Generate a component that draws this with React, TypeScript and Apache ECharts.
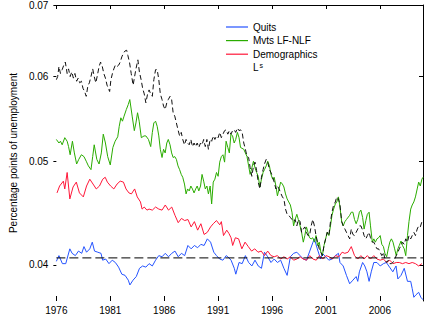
import React, { useEffect, useRef } from "react";
import * as echarts from "echarts";

const xRange = [1976, 2010];
const yRange = [0.037, 0.07];
const xTicks = [1976, 1981, 1986, 1991, 1996, 2001, 2006];
const yTicks = [0.04, 0.05, 0.06, 0.07];
const seriesNames = ["Quits", "Mvts LF-NLF", "Demographics", "Ls"];
const benchmarkLevel = 0.0406;

const quits: [number, number][] = [
  [1976.0, 0.0403], [1976.24, 0.0408], [1976.56, 0.0401], [1976.87, 0.0401], [1977.25, 0.0414], [1977.46, 0.041],
  [1977.76, 0.0408], [1978.05, 0.0412], [1978.35, 0.041], [1978.56, 0.0416], [1978.8, 0.0411], [1979.1, 0.0414],
  [1979.33, 0.042], [1979.54, 0.0412], [1979.84, 0.0411], [1980.14, 0.041], [1980.29, 0.0404], [1980.58, 0.0405],
  [1980.88, 0.0401], [1981.18, 0.0404], [1981.47, 0.0402], [1981.77, 0.0398], [1982.07, 0.0392], [1982.37, 0.0391],
  [1982.67, 0.0387], [1982.82, 0.0383], [1983.11, 0.0387], [1983.41, 0.039], [1983.71, 0.0397], [1984.0, 0.0399],
  [1984.3, 0.0398], [1984.6, 0.0401], [1984.9, 0.0399], [1985.2, 0.0404], [1985.5, 0.0408], [1985.8, 0.0407],
  [1986.1, 0.041], [1986.4, 0.0407], [1986.7, 0.041], [1987.0, 0.0412], [1987.3, 0.0407], [1987.6, 0.041],
  [1987.9, 0.0408], [1988.2, 0.0417], [1988.5, 0.0414], [1988.8, 0.0417], [1989.1, 0.0415], [1989.4, 0.0418],
  [1989.7, 0.0417], [1990.0, 0.0423], [1990.3, 0.042], [1990.6, 0.0411], [1990.85, 0.0408], [1991.15, 0.0405],
  [1991.45, 0.0404], [1991.75, 0.0408], [1991.9, 0.0407], [1992.2, 0.0404], [1992.5, 0.0397], [1992.64, 0.0392],
  [1992.94, 0.0402], [1993.23, 0.0401], [1993.53, 0.0408], [1993.83, 0.0402], [1994.13, 0.0399], [1994.42, 0.0404],
  [1994.72, 0.0399], [1995.02, 0.0397], [1995.3, 0.0411], [1995.6, 0.0407], [1995.9, 0.0402], [1996.2, 0.0405],
  [1996.5, 0.0402], [1996.8, 0.0404], [1997.1, 0.0397], [1997.4, 0.0391], [1997.7, 0.0407], [1998.0, 0.041],
  [1998.3, 0.0411], [1998.6, 0.0408], [1998.9, 0.0405], [1999.2, 0.0404], [1999.5, 0.0412], [1999.8, 0.042],
  [1999.93, 0.0423], [2000.2, 0.0414], [2000.5, 0.0405], [2000.67, 0.041], [2000.97, 0.0407], [2001.27, 0.0404],
  [2001.56, 0.0405], [2001.86, 0.0408], [2002.16, 0.041], [2002.3, 0.0402], [2002.6, 0.0399], [2002.9, 0.0391],
  [2003.2, 0.0384], [2003.5, 0.0387], [2003.8, 0.039], [2003.95, 0.0386], [2004.1, 0.0394], [2004.4, 0.0402],
  [2004.6, 0.0399], [2004.8, 0.0394], [2005.0, 0.0386], [2005.2, 0.0394], [2005.44, 0.0402], [2005.73, 0.0402],
  [2006.03, 0.0399], [2006.33, 0.0401], [2006.6, 0.0402], [2006.9, 0.0398], [2007.2, 0.0394], [2007.5, 0.0399],
  [2007.67, 0.0388], [2007.96, 0.0391], [2008.26, 0.0397], [2008.56, 0.0386], [2008.86, 0.0386], [2009.0, 0.038],
  [2009.15, 0.0373], [2009.35, 0.0375], [2009.6, 0.0377], [2009.8, 0.0373], [2010.0, 0.0371],
];

const mvtsLfNlf: [number, number][] = [
  [1976.0, 0.0524], [1976.24, 0.052], [1976.38, 0.0522], [1976.54, 0.0518], [1976.78, 0.0526], [1977.0, 0.0522],
  [1977.13, 0.0516], [1977.28, 0.0507], [1977.49, 0.0522], [1977.67, 0.0509], [1977.88, 0.0497], [1978.08, 0.0502],
  [1978.32, 0.0507], [1978.56, 0.0505], [1978.77, 0.05], [1978.97, 0.0495], [1979.21, 0.0491], [1979.37, 0.0505],
  [1979.51, 0.0518], [1979.75, 0.0502], [1979.96, 0.0497], [1980.17, 0.0509], [1980.35, 0.053], [1980.55, 0.052],
  [1980.76, 0.0505], [1981.0, 0.0496], [1981.24, 0.0515], [1981.45, 0.0522], [1981.69, 0.0527], [1981.83, 0.0539],
  [1981.98, 0.0549], [1982.13, 0.0545], [1982.28, 0.0551], [1982.49, 0.0559], [1982.67, 0.0565], [1982.81, 0.0571],
  [1983.03, 0.0551], [1983.23, 0.0534], [1983.38, 0.0543], [1983.53, 0.0555], [1983.68, 0.0545], [1983.88, 0.0526],
  [1984.13, 0.0528], [1984.3, 0.0528], [1984.54, 0.0524], [1984.75, 0.0516], [1984.9, 0.0532], [1985.04, 0.0543],
  [1985.2, 0.0545], [1985.35, 0.0539], [1985.5, 0.0528], [1985.64, 0.0513], [1985.8, 0.0504], [1985.94, 0.0513],
  [1986.09, 0.0509], [1986.24, 0.052], [1986.38, 0.0524], [1986.54, 0.0518], [1986.69, 0.0509], [1986.83, 0.0504],
  [1986.98, 0.0505], [1987.13, 0.0502], [1987.28, 0.0495], [1987.43, 0.0491], [1987.58, 0.0486], [1987.72, 0.0483],
  [1987.88, 0.0476], [1988.03, 0.0466], [1988.17, 0.0471], [1988.32, 0.0469], [1988.47, 0.0474], [1988.62, 0.0471],
  [1988.77, 0.0467], [1988.92, 0.0471], [1989.06, 0.0474], [1989.21, 0.0469], [1989.37, 0.0474], [1989.51, 0.0486],
  [1989.66, 0.0479], [1989.81, 0.0471], [1989.96, 0.0474], [1990.1, 0.0466], [1990.26, 0.0474], [1990.4, 0.0456],
  [1990.55, 0.0478], [1990.7, 0.0481], [1990.85, 0.0488], [1991.0, 0.0484], [1991.15, 0.0499], [1991.3, 0.0505],
  [1991.45, 0.0507], [1991.6, 0.0499], [1991.74, 0.0522], [1991.9, 0.0515], [1992.04, 0.0509], [1992.19, 0.053],
  [1992.34, 0.0528], [1992.49, 0.052], [1992.63, 0.0524], [1992.79, 0.0532], [1992.94, 0.0526], [1993.08, 0.0515],
  [1993.38, 0.0513], [1993.68, 0.0505], [1993.83, 0.0495], [1993.97, 0.0486], [1994.13, 0.0493], [1994.28, 0.05],
  [1994.42, 0.0493], [1994.57, 0.0488], [1994.72, 0.0484], [1994.87, 0.0473], [1995.02, 0.0481], [1995.17, 0.0488],
  [1995.3, 0.0491], [1995.46, 0.0495], [1995.6, 0.05], [1995.76, 0.0495], [1995.9, 0.0486], [1996.06, 0.0481],
  [1996.2, 0.0483], [1996.36, 0.0474], [1996.5, 0.0464], [1996.65, 0.0471], [1996.8, 0.0478], [1996.96, 0.0476],
  [1997.1, 0.0473], [1997.25, 0.0466], [1997.4, 0.0461], [1997.55, 0.0458], [1997.7, 0.0455], [1997.85, 0.0448],
  [1998.0, 0.0435], [1998.14, 0.0441], [1998.3, 0.0446], [1998.44, 0.0441], [1998.6, 0.0435], [1998.74, 0.0429],
  [1998.9, 0.042], [1999.04, 0.0426], [1999.19, 0.0434], [1999.33, 0.0429], [1999.48, 0.0424], [1999.63, 0.0423],
  [1999.78, 0.0424], [1999.93, 0.042], [2000.08, 0.0426], [2000.22, 0.0417], [2000.38, 0.042], [2000.53, 0.0411],
  [2000.67, 0.0408], [2000.82, 0.0417], [2000.97, 0.0423], [2001.12, 0.0429], [2001.27, 0.0426], [2001.42, 0.0435],
  [2001.56, 0.0445], [2001.71, 0.0451], [2001.87, 0.0456], [2002.0, 0.0458], [2002.16, 0.0463], [2002.3, 0.0453],
  [2002.46, 0.0439], [2002.6, 0.0435], [2002.76, 0.0439], [2002.9, 0.0441], [2003.2, 0.0445], [2003.35, 0.0448],
  [2003.5, 0.0448], [2003.65, 0.0441], [2003.8, 0.0437], [2003.95, 0.0441], [2004.1, 0.0448], [2004.24, 0.045],
  [2004.4, 0.0443], [2004.54, 0.0432], [2004.7, 0.044], [2004.84, 0.0446], [2005.0, 0.0448], [2005.13, 0.0435],
  [2005.3, 0.042], [2005.44, 0.0423], [2005.58, 0.042], [2005.73, 0.0423], [2005.88, 0.0424], [2006.03, 0.0426],
  [2006.18, 0.0418], [2006.33, 0.0416], [2006.47, 0.041], [2006.63, 0.0407], [2006.78, 0.0414], [2006.92, 0.042],
  [2007.07, 0.0423], [2007.22, 0.042], [2007.37, 0.0414], [2007.52, 0.0408], [2007.67, 0.0414], [2007.8, 0.0417],
  [2007.96, 0.0421], [2008.1, 0.0417], [2008.26, 0.0414], [2008.4, 0.0408], [2008.56, 0.0426], [2008.7, 0.0439],
  [2008.86, 0.0451], [2009.0, 0.0455], [2009.15, 0.0458], [2009.3, 0.0463], [2009.46, 0.0471], [2009.6, 0.0478],
  [2009.75, 0.0474], [2009.9, 0.0481], [2010.0, 0.0483],
];

const demographics: [number, number][] = [
  [1976.06, 0.0467], [1976.3, 0.0474], [1976.65, 0.0479], [1976.78, 0.0471], [1977.0, 0.0488], [1977.25, 0.0461],
  [1977.55, 0.0473], [1977.85, 0.0478], [1978.14, 0.0467], [1978.5, 0.0463], [1978.8, 0.0474], [1979.1, 0.0481],
  [1979.4, 0.0476], [1979.7, 0.0471], [1980.0, 0.0474], [1980.3, 0.0481], [1980.53, 0.0483], [1980.73, 0.0478],
  [1981.03, 0.0474], [1981.33, 0.0471], [1981.63, 0.0476], [1981.92, 0.0479], [1982.22, 0.0478], [1982.46, 0.0471],
  [1982.73, 0.0467], [1982.96, 0.0466], [1983.26, 0.0471], [1983.5, 0.0463], [1983.8, 0.0458], [1983.95, 0.0451],
  [1984.15, 0.0453], [1984.4, 0.045], [1984.6, 0.0451], [1984.9, 0.045], [1985.2, 0.0453], [1985.5, 0.0451],
  [1985.8, 0.045], [1986.1, 0.0455], [1986.4, 0.045], [1986.7, 0.0453], [1987.0, 0.0445], [1987.3, 0.0438],
  [1987.6, 0.0442], [1987.9, 0.044], [1988.2, 0.0441], [1988.5, 0.0434], [1988.8, 0.0439], [1989.1, 0.0431],
  [1989.4, 0.0437], [1989.7, 0.0427], [1990.0, 0.0429], [1990.3, 0.0434], [1990.55, 0.0437], [1990.85, 0.044],
  [1991.15, 0.0436], [1991.3, 0.0439], [1991.5, 0.0426], [1991.8, 0.0431], [1992.0, 0.0428], [1992.2, 0.0424],
  [1992.35, 0.0417], [1992.6, 0.0424], [1992.9, 0.0423], [1993.2, 0.0414], [1993.5, 0.042], [1993.8, 0.0416],
  [1994.1, 0.0412], [1994.4, 0.0414], [1994.7, 0.0411], [1995.0, 0.0412], [1995.3, 0.0408], [1995.6, 0.0412],
  [1995.9, 0.0408], [1996.2, 0.0407], [1996.5, 0.0408], [1996.8, 0.0405], [1997.1, 0.0407], [1997.4, 0.0405],
  [1997.7, 0.0407], [1998.0, 0.0404], [1998.3, 0.0405], [1998.6, 0.0407], [1998.9, 0.0405], [1999.2, 0.0404],
  [1999.5, 0.0408], [1999.8, 0.0405], [2000.1, 0.0404], [2000.4, 0.0408], [2000.7, 0.0405], [2001.0, 0.0408],
  [2001.3, 0.0407], [2001.6, 0.0405], [2001.9, 0.0408], [2002.2, 0.0407], [2002.5, 0.0411], [2002.75, 0.041],
  [2003.05, 0.0411], [2003.35, 0.0416], [2003.65, 0.0408], [2003.95, 0.0405], [2004.24, 0.0408], [2004.54, 0.0405],
  [2004.84, 0.0408], [2005.13, 0.0405], [2005.44, 0.0408], [2005.73, 0.0405], [2006.03, 0.0404], [2006.33, 0.0405],
  [2006.63, 0.0402], [2006.92, 0.0404], [2007.22, 0.0401], [2007.52, 0.0402], [2007.8, 0.0402], [2008.1, 0.0401],
  [2008.4, 0.0402], [2008.7, 0.0401], [2009.0, 0.0402], [2009.3, 0.0401], [2009.6, 0.0399], [2009.9, 0.0401],
];

const lSteady: [number, number][] = [
  [1976.0, 0.0596], [1976.12, 0.06], [1976.24, 0.0613], [1976.38, 0.0604], [1976.54, 0.0609], [1976.69, 0.0615],
  [1976.83, 0.0619], [1977.0, 0.0604], [1977.13, 0.061], [1977.28, 0.06], [1977.43, 0.0606], [1977.58, 0.0598],
  [1977.72, 0.0604], [1977.88, 0.0594], [1978.02, 0.0598], [1978.17, 0.0592], [1978.32, 0.0594], [1978.47, 0.0585],
  [1978.62, 0.0581], [1978.77, 0.0575], [1978.92, 0.0588], [1979.06, 0.0592], [1979.21, 0.06], [1979.37, 0.061],
  [1979.51, 0.06], [1979.66, 0.0592], [1979.81, 0.0602], [1979.96, 0.0613], [1980.1, 0.0619], [1980.26, 0.0613],
  [1980.4, 0.0604], [1980.55, 0.0598], [1980.7, 0.0589], [1980.94, 0.0581], [1981.06, 0.0596], [1981.2, 0.0604],
  [1981.33, 0.061], [1981.47, 0.0615], [1981.62, 0.0613], [1981.78, 0.0615], [1981.92, 0.0619], [1982.07, 0.0626],
  [1982.22, 0.0631], [1982.37, 0.0634], [1982.52, 0.0635], [1982.63, 0.0628], [1982.79, 0.0618], [1982.94, 0.0604],
  [1983.12, 0.0589], [1983.23, 0.0598], [1983.38, 0.061], [1983.56, 0.0622], [1983.7, 0.0606], [1983.86, 0.0596],
  [1984.0, 0.0585], [1984.15, 0.0578], [1984.3, 0.0567], [1984.46, 0.0578], [1984.6, 0.0583], [1984.75, 0.0578],
  [1984.9, 0.0575], [1985.04, 0.0596], [1985.2, 0.0609], [1985.35, 0.0609], [1985.5, 0.0596], [1985.64, 0.0578],
  [1985.8, 0.0571], [1985.94, 0.0563], [1986.09, 0.0559], [1986.24, 0.0567], [1986.38, 0.0571], [1986.54, 0.0575],
  [1986.69, 0.0571], [1986.83, 0.0555], [1986.98, 0.0551], [1987.13, 0.0543], [1987.28, 0.0535], [1987.43, 0.0528],
  [1987.58, 0.0532], [1987.72, 0.0524], [1987.88, 0.0518], [1988.03, 0.0524], [1988.17, 0.052], [1988.32, 0.0518],
  [1988.47, 0.0524], [1988.62, 0.0516], [1988.77, 0.052], [1988.92, 0.0516], [1989.06, 0.052], [1989.21, 0.0515],
  [1989.37, 0.052], [1989.51, 0.0518], [1989.66, 0.0524], [1989.81, 0.0516], [1989.96, 0.0524], [1990.1, 0.0513],
  [1990.26, 0.0524], [1990.4, 0.0522], [1990.55, 0.0528], [1990.7, 0.0524], [1990.85, 0.0528], [1991.0, 0.0526],
  [1991.15, 0.0532], [1991.3, 0.0526], [1991.45, 0.053], [1991.6, 0.0534], [1991.74, 0.0535], [1991.9, 0.053],
  [1992.04, 0.0534], [1992.19, 0.053], [1992.34, 0.0534], [1992.49, 0.0535], [1992.63, 0.0532], [1992.79, 0.0537],
  [1992.94, 0.0534], [1993.08, 0.0535], [1993.23, 0.0532], [1993.38, 0.052], [1993.53, 0.0513], [1993.68, 0.0505],
  [1993.83, 0.0504], [1993.97, 0.0493], [1994.13, 0.0484], [1994.28, 0.0495], [1994.42, 0.0499], [1994.57, 0.049],
  [1994.72, 0.0478], [1994.87, 0.0471], [1995.02, 0.0483], [1995.17, 0.0491], [1995.3, 0.0497], [1995.46, 0.0502],
  [1995.6, 0.0499], [1995.76, 0.0491], [1995.9, 0.0488], [1996.06, 0.0483], [1996.2, 0.0478], [1996.36, 0.0471],
  [1996.5, 0.0474], [1996.65, 0.0471], [1996.8, 0.0467], [1996.96, 0.0463], [1997.1, 0.0461], [1997.25, 0.0451],
  [1997.4, 0.0446], [1997.55, 0.0445], [1997.7, 0.0443], [1997.85, 0.0441], [1998.0, 0.0439], [1998.14, 0.0441],
  [1998.3, 0.0435], [1998.44, 0.0441], [1998.6, 0.0439], [1998.74, 0.0429], [1998.9, 0.0432], [1999.04, 0.0434],
  [1999.19, 0.0429], [1999.33, 0.0426], [1999.48, 0.0426], [1999.63, 0.0435], [1999.78, 0.0441], [1999.93, 0.0435],
  [2000.08, 0.0426], [2000.22, 0.042], [2000.38, 0.0414], [2000.53, 0.0411], [2000.67, 0.0408], [2000.82, 0.0417],
  [2000.97, 0.0423], [2001.12, 0.0429], [2001.27, 0.0426], [2001.42, 0.0439], [2001.56, 0.0448], [2001.71, 0.0455],
  [2001.87, 0.0458], [2002.0, 0.0463], [2002.16, 0.0461], [2002.3, 0.0455], [2002.46, 0.0439], [2002.6, 0.0435],
  [2002.76, 0.0432], [2002.9, 0.0429], [2003.05, 0.0426], [2003.2, 0.0423], [2003.35, 0.0432], [2003.5, 0.0427],
  [2003.65, 0.0426], [2003.8, 0.0429], [2003.95, 0.0432], [2004.1, 0.0435], [2004.24, 0.0435], [2004.4, 0.0431],
  [2004.54, 0.0426], [2004.7, 0.0423], [2004.84, 0.0426], [2005.0, 0.0429], [2005.13, 0.0424], [2005.3, 0.042],
  [2005.44, 0.042], [2005.58, 0.0417], [2005.73, 0.0414], [2005.88, 0.0414], [2006.03, 0.0411], [2006.18, 0.0408],
  [2006.33, 0.0411], [2006.47, 0.0405], [2006.63, 0.0402], [2006.78, 0.0404], [2006.92, 0.0401], [2007.07, 0.0401],
  [2007.22, 0.0402], [2007.37, 0.0405], [2007.52, 0.0408], [2007.67, 0.0411], [2007.8, 0.0414], [2007.96, 0.0417],
  [2008.1, 0.042], [2008.26, 0.0418], [2008.4, 0.0423], [2008.56, 0.042], [2008.7, 0.0426], [2008.86, 0.0423],
  [2009.0, 0.0426], [2009.15, 0.0429], [2009.3, 0.0426], [2009.46, 0.0432], [2009.6, 0.0435], [2009.75, 0.0434],
  [2009.9, 0.0439],
];

const FONT = "'Liberation Sans', Arial, Helvetica, sans-serif";
const COLORS = ["#2453ff", "#2aac00", "#ff1638", "#111111"];

export default function App() {
  const ref = useRef<HTMLDivElement>(null);

  useEffect(() => {
    if (!ref.current) return;
    const chart = echarts.init(ref.current, undefined, { renderer: "svg" });
    const lnMin = Math.log(yRange[0]);
    const lnMax = Math.log(yRange[1]);
    const lnTicks = yTicks.map((v) => Math.log(v));
    const black = "#000";

    chart.setOption({
      animation: false,
      textStyle: { fontFamily: FONT },
      grid: { left: 42, right: 1, top: 3, bottom: 13, containLabel: false },
      legend: {
        orient: "vertical",
        left: 221,
        top: 16,
        icon: "rect",
        itemWidth: 22,
        itemHeight: 1.2,
        itemGap: 1.6,
        selectedMode: false,
        textStyle: {
          fontSize: 10,
          color: black,
          fontFamily: FONT,
          lineHeight: 12,
          rich: {
            b: { fontSize: 10, color: black, fontFamily: FONT, lineHeight: 12 },
            sup: { fontSize: 7, color: black, fontFamily: FONT, lineHeight: 7, verticalAlign: "top", padding: [0, 0, 0, 1] },
          },
        },
        formatter: (n: string) => (n === "Ls" ? "{b|L}{sup|s}" : n),
        data: [
          { name: seriesNames[0] },
          { name: seriesNames[1] },
          { name: seriesNames[2] },
          { name: seriesNames[3], itemStyle: { opacity: 0 } },
        ],
      },
      xAxis: [
        {
          type: "value",
          position: "bottom",
          min: xRange[0],
          max: xRange[1],
          axisLine: { show: false },
          splitLine: { show: false },
          axisTick: { show: true, inside: true, length: 5, customValues: xTicks, lineStyle: { color: black } },
          axisLabel: {
            customValues: xTicks,
            margin: 4,
            fontSize: 10,
            color: black,
            fontFamily: FONT,
            formatter: (v: number) => String(Math.round(v)),
          },
        },
        {
          type: "value",
          position: "top",
          min: xRange[0],
          max: xRange[1],
          axisLine: { show: true, lineStyle: { color: black, width: 1 } },
          splitLine: { show: false },
          axisTick: { show: true, inside: true, length: 4, customValues: xTicks, lineStyle: { color: black } },
          axisLabel: { show: false },
        },
      ],
      yAxis: [
        {
          type: "value",
          position: "left",
          min: lnMin,
          max: lnMax,
          name: "Percentage points of unemployment",
          nameLocation: "middle",
          nameGap: 28,
          nameTextStyle: { fontSize: 10, color: black, fontFamily: FONT },
          axisLine: { show: false },
          splitLine: { show: false },
          axisTick: { show: true, inside: false, length: 3, customValues: lnTicks, lineStyle: { color: black } },
          axisLabel: {
            customValues: lnTicks,
            margin: 8,
            fontSize: 10,
            color: black,
            fontFamily: FONT,
            formatter: (v: number) => Math.exp(v).toFixed(2),
          },
        },
        {
          type: "value",
          position: "right",
          min: lnMin,
          max: lnMax,
          axisLine: { show: true, lineStyle: { color: black, width: 1 } },
          splitLine: { show: false },
          axisTick: { show: true, inside: true, length: 4, customValues: lnTicks, lineStyle: { color: black } },
          axisLabel: { show: false },
        },
        {
          type: "log",
          min: yRange[0],
          max: yRange[1],
          show: false,
          splitLine: { show: false },
        },
      ],
      series: [
        { name: seriesNames[0], data: quits, color: COLORS[0] },
        { name: seriesNames[1], data: mvtsLfNlf, color: COLORS[1] },
        { name: seriesNames[2], data: demographics, color: COLORS[2] },
        { name: seriesNames[3], data: lSteady, color: COLORS[3], dashed: [5, 3] },
        { name: "benchmark", data: [[xRange[0], benchmarkLevel], [xRange[1], benchmarkLevel]], color: black, dashed: [9, 4] },
      ].map((s) => ({
        type: "line",
        name: s.name,
        data: s.data,
        xAxisIndex: 0,
        yAxisIndex: 2,
        symbol: "none",
        showSymbol: false,
        silent: true,
        itemStyle: { color: s.color },
        lineStyle: { color: s.color, width: 1, type: (s as any).dashed ? (s as any).dashed : "solid" },
      })),
    });

    return () => chart.dispose();
  }, []);

  return (
    <div
      ref={ref}
      style={{ position: "fixed", left: 0, top: 0, width: 424, height: 315, background: "#fff" }}
    />
  );
}
